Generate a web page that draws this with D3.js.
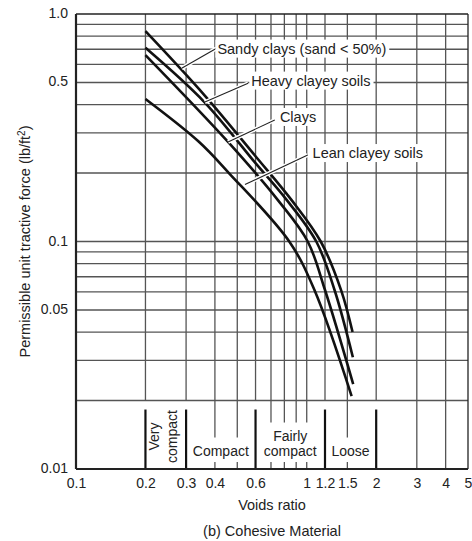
<!DOCTYPE html>
<html>
<head>
    <script type="text/javascript" src="https://d3js.org/d3.v7.min.js"></script>
    <style>
        body { margin: 0; background: #fff; }
        svg text { font-family: "Liberation Sans", Arial, sans-serif; fill: #222; }
        .grid line { stroke: #555; stroke-width: 1.3; }
        .curve { fill: none; stroke: #111; stroke-width: 2.6; stroke-linecap: butt; }
        .halo { stroke: #fff; stroke-width: 4; }
        .leader { stroke: #222; stroke-width: 1.1; }
        .frame { stroke: #222; fill: none; }
        .divider { stroke: #111; stroke-width: 2.2; }
    </style>
    <title>Permissible unit tractive force - cohesive material</title>
</head>
<body>
    <svg width="472" height="541"></svg>
    <script>
        // tick labels
        var xTicks = [0.1, 0.2, 0.3, 0.4, 0.6, 1, 1.2, 1.5, 2, 3, 4, 5];
        var xTickLabels = ["0.1", "0.2", "0.3", "0.4", "0.6", "1", "1.2", "1.5", "2", "3", "4", "5"];
        var yTicks = [1, 0.5, 0.1, 0.05, 0.01];
        var yTickLabels = ["1.0", "0.5", "0.1", "0.05", "0.01"];

        // grid
        var xGrid = [0.2, 0.3, 0.4, 0.5, 0.6, 0.7, 0.8, 0.9, 1, 1.2, 1.5, 2, 3, 4];
        var yGrid = [0.02, 0.03, 0.04, 0.05, 0.06, 0.07, 0.08, 0.09,
                     0.1, 0.2, 0.3, 0.4, 0.5, 0.6, 0.7, 0.8, 0.9];

        // soil state bands (voids ratio)
        var bandNames = [["Very", "compact"], ["Compact"], ["Fairly", "compact"], ["Loose"]];
        var bandFrom = [0.2, 0.3, 0.6, 1.2];
        var bandTo = [0.3, 0.6, 1.2, 2];
        var dividers = [0.2, 0.3, 0.6, 1.2, 2];

        // curves: voids ratio -> permissible tractive force (lb/ft2)
        var sandyVoids = [0.2, 0.36, 0.6, 0.86, 1.15, 1.41, 1.58];
        var sandyForce = [0.84, 0.44, 0.237, 0.152, 0.1, 0.061, 0.04];
        var heavyVoids = [0.2, 0.36, 0.6, 0.82, 1.1, 1.32, 1.585];
        var heavyForce = [0.71, 0.41, 0.221, 0.152, 0.1, 0.0612, 0.031];
        var claysVoids = [0.2, 0.456, 0.75, 1.01, 1.2, 1.59];
        var claysForce = [0.66, 0.274, 0.152, 0.1, 0.0612, 0.0236];
        var leanVoids = [0.2, 0.34, 0.46, 0.84, 1.08, 1.565];
        var leanForce = [0.423, 0.275, 0.2, 0.1, 0.0612, 0.0209];

        // curve labels and leaders
        var labelNames = ["Sandy clays (sand < 50%)", "Heavy clayey soils", "Clays", "Lean clayey soils"];
        var labelVoids = [0.41, 0.575, 0.765, 1.06];
        var labelForce = [0.705, 0.51, 0.353, 0.245];
        var leaderFromVoids = [0.405, 0.557, 0.727, 1.01];
        var leaderFromForce = [0.705, 0.496, 0.342, 0.24];
        var leaderToVoids = [0.287, 0.362, 0.456, 0.54];
        var leaderToForce = [0.577, 0.41, 0.274, 0.178];

        var svg = d3.select("svg");
        var margin = { top: 14, right: 4, bottom: 72, left: 76 };
        var width = svg.attr("width") - margin.left - margin.right;
        var height = svg.attr("height") - margin.top - margin.bottom;

        var x = d3.scaleLog().domain([0.1, 5]).range([0, width]);
        var y = d3.scaleLog().domain([0.01, 1]).range([height, 0]);

        var g = svg.append("g")
            .attr("transform", "translate(" + margin.left + "," + margin.top + ")");

        // horizontal grid
        var grid = g.append("g").attr("class", "grid");
        grid.selectAll(".hg")
            .data(yGrid)
            .enter()
            .append("line")
            .attr("x1", 0).attr("x2", width)
            .attr("y1", function (d) { return y(d); })
            .attr("y2", function (d) { return y(d); });

        // vertical grid, down to 0.02 (3 and 4 go to the bottom)
        grid.selectAll(".vg")
            .data(xGrid)
            .enter()
            .append("line")
            .attr("x1", function (d) { return x(d); })
            .attr("x2", function (d) { return x(d); })
            .attr("y1", 0)
            .attr("y2", function (d) { return d >= 3 ? height : y(0.02); });

        // short lines into the band area, broken by the band names
        var y02 = y(0.02);
        var longStub = [0.4, 0.5, 1.5];
        var shortStub = [0.7, 0.8, 0.9, 1];
        grid.selectAll(".stub1")
            .data(longStub)
            .enter()
            .append("line")
            .attr("x1", function (d) { return x(d); })
            .attr("x2", function (d) { return x(d); })
            .attr("y1", y02).attr("y2", y02 + 37);
        grid.selectAll(".stub2")
            .data(shortStub)
            .enter()
            .append("line")
            .attr("x1", function (d) { return x(d); })
            .attr("x2", function (d) { return x(d); })
            .attr("y1", y02).attr("y2", y02 + 22);
        grid.selectAll(".stub3")
            .data(longStub.concat(shortStub))
            .enter()
            .append("line")
            .attr("x1", function (d) { return x(d); })
            .attr("x2", function (d) { return x(d); })
            .attr("y1", height - 7).attr("y2", height);

        // band dividers
        g.selectAll(".divider")
            .data(dividers)
            .enter()
            .append("line")
            .attr("class", "divider")
            .attr("x1", function (d) { return x(d); })
            .attr("x2", function (d) { return x(d); })
            .attr("y1", y02 + 9).attr("y2", height);

        // band names, centred (in log terms) in each band
        bandNames.forEach(function (lines, i) {
            var cx = x(Math.sqrt(bandFrom[i] * bandTo[i]));
            if (i == 0) {
                // "Very compact" is written upwards
                var t = g.append("text")
                    .attr("transform", "translate(" + (cx - 7) + "," + (y02 + 36) + ") rotate(-90)")
                    .attr("text-anchor", "middle")
                    .attr("font-size", "14px");
                t.append("tspan").attr("x", 0).attr("dy", 0).text(lines[0]);
                t.append("tspan").attr("x", 0).attr("dy", 18.5).text(lines[1]);
            } else {
                var t2 = g.append("text")
                    .attr("x", cx)
                    .attr("y", height - 13 - (lines.length - 1) * 15)
                    .attr("text-anchor", "middle")
                    .attr("font-size", "14px");
                lines.forEach(function (s, j) {
                    t2.append("tspan").attr("x", cx).attr("dy", j == 0 ? 0 : 15).text(s);
                });
            }
        });

        // curves
        var line = d3.line()
            .x(function (d) { return x(d[0]); })
            .y(function (d) { return y(d[1]); })
            .curve(d3.curveCatmullRom.alpha(0.5));

        var curves = [
            d3.zip(sandyVoids, sandyForce),
            d3.zip(heavyVoids, heavyForce),
            d3.zip(claysVoids, claysForce),
            d3.zip(leanVoids, leanForce)
        ];
        g.selectAll(".curve")
            .data(curves)
            .enter()
            .append("path")
            .attr("class", "curve")
            .attr("d", line);

        // leaders (white halo cuts the curves they cross)
        var leaders = d3.range(labelNames.length).map(function (i) {
            return [x(leaderFromVoids[i]), y(leaderFromForce[i]), x(leaderToVoids[i]), y(leaderToForce[i])];
        });
        g.selectAll(".halo")
            .data(leaders)
            .enter()
            .append("line")
            .attr("class", "halo")
            .attr("x1", function (d) { return d[0]; })
            .attr("y1", function (d) { return d[1]; })
            .attr("x2", function (d) { return d[2]; })
            .attr("y2", function (d) { return d[3]; });
        g.selectAll(".leader")
            .data(leaders)
            .enter()
            .append("line")
            .attr("class", "leader")
            .attr("x1", function (d) { return d[0]; })
            .attr("y1", function (d) { return d[1]; })
            .attr("x2", function (d) { return d[2]; })
            .attr("y2", function (d) { return d[3]; });

        // curve labels with white boxes
        labelNames.forEach(function (name, i) {
            var lg = g.append("g");
            var box = lg.append("rect").attr("fill", "#fff");
            var t = lg.append("text")
                .attr("x", x(labelVoids[i]))
                .attr("y", y(labelForce[i]))
                .attr("dy", "0.35em")
                .attr("font-size", "14.5px")
                .text(name);
            var b = t.node().getBBox();
            box.attr("x", b.x - 2).attr("y", b.y - 1)
                .attr("width", b.width + 5).attr("height", b.height + 2);
        });

        // frame
        g.append("line").attr("class", "frame").attr("x1", 0).attr("x2", 0)
            .attr("y1", 0).attr("y2", height).attr("stroke-width", 2.2);
        g.append("line").attr("class", "frame").attr("x1", 0).attr("x2", width)
            .attr("y1", height).attr("y2", height).attr("stroke-width", 2.2);
        g.append("line").attr("class", "frame").attr("x1", 0).attr("x2", width)
            .attr("y1", 0).attr("y2", 0).attr("stroke-width", 1.5);
        g.append("line").attr("class", "frame").attr("x1", width).attr("x2", width)
            .attr("y1", 0).attr("y2", height).attr("stroke-width", 1.3);

        // axes (labels only)
        var xAxis = g.append("g")
            .attr("transform", "translate(0," + height + ")")
            .call(d3.axisBottom(x).tickValues(xTicks)
                .tickFormat(function (d, i) { return xTickLabels[i]; })
                .tickSize(0).tickPadding(9));
        var yAxis = g.append("g")
            .call(d3.axisLeft(y).tickValues(yTicks)
                .tickFormat(function (d, i) { return yTickLabels[i]; })
                .tickSize(0).tickPadding(8));
        [xAxis, yAxis].forEach(function (a) {
            a.select(".domain").remove();
            a.selectAll("text")
                .attr("font-size", "14px")
                .attr("font-family", "Liberation Sans, Arial, sans-serif")
                .attr("fill", "#222");
        });
        yAxis.selectAll("text").attr("dy", "0.25em");

        // titles
        g.append("text")
            .attr("x", width / 2).attr("y", height + 41)
            .attr("text-anchor", "middle")
            .attr("font-size", "14.5px")
            .text("Voids ratio");

        g.append("text")
            .attr("x", width / 2).attr("y", height + 67)
            .attr("text-anchor", "middle")
            .attr("font-size", "14.5px")
            .text("(b) Cohesive Material");

        var yl = g.append("text")
            .attr("transform", "translate(" + (-46) + "," + (height / 2) + ") rotate(-90)")
            .attr("text-anchor", "middle")
            .attr("font-size", "14.5px");
        yl.append("tspan").text("Permissible unit tractive force (lb/ft");
        yl.append("tspan").attr("dy", -5).attr("font-size", "10px").text("2");
        yl.append("tspan").attr("dy", 5).text(")");
    </script>
</body>
</html>
